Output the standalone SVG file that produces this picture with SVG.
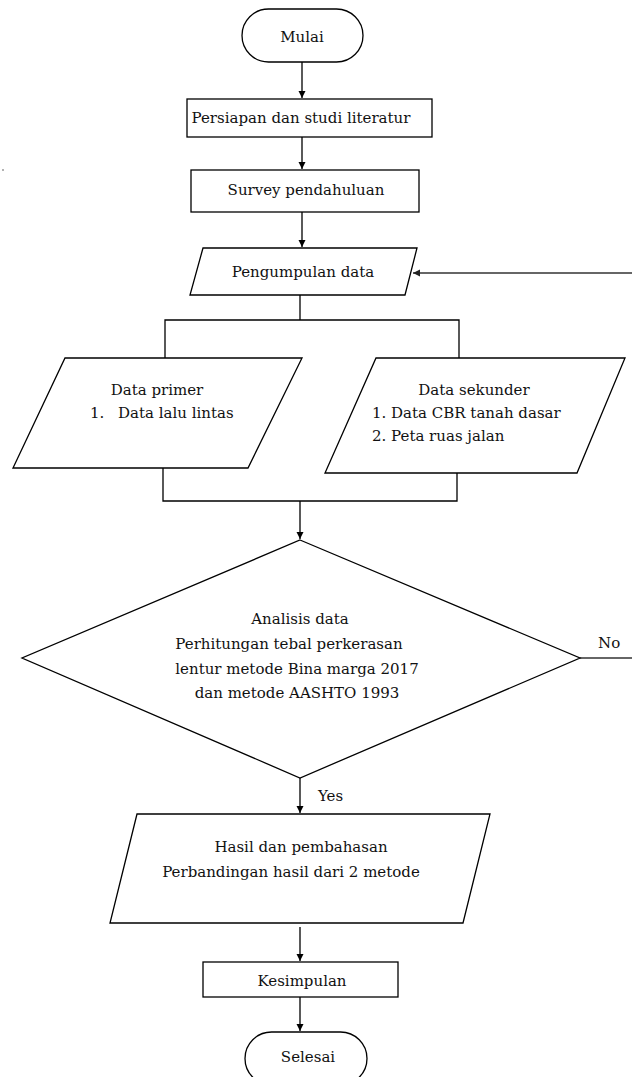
<svg xmlns="http://www.w3.org/2000/svg" width="632" height="1077" viewBox="0 0 632 1077">
<defs>
<marker id="ah" markerWidth="8" markerHeight="8" refX="7" refY="4" orient="auto" markerUnits="userSpaceOnUse">
<path d="M0,0.5 L7,4 L0,7.5 Z" fill="#000"/>
</marker>
<marker id="ahg" markerWidth="8" markerHeight="8" refX="7" refY="4" orient="auto" markerUnits="userSpaceOnUse">
<path d="M0,0.5 L7,4 L0,7.5 Z" fill="#222"/>
</marker>
<style>
.s{fill:#fff;stroke:#000;stroke-width:1.3}
.t{font-family:"DejaVu Serif","Liberation Serif",serif;font-size:15px;fill:#111}
.c{text-anchor:middle}
.l{fill:none;stroke:#000;stroke-width:1.3}
.g{fill:none;stroke:#666;stroke-width:1.8}
</style>
</defs>
<rect width="632" height="1077" fill="#fff"/>
<circle cx="3" cy="170" r="1" fill="#999"/>
<g id="connectors">
<line class="l" x1="302" y1="62" x2="302" y2="98" marker-end="url(#ah)"/>
<line class="l" x1="302" y1="137" x2="302" y2="169" marker-end="url(#ah)"/>
<line class="l" x1="302" y1="212" x2="302" y2="247" marker-end="url(#ah)"/>
<line class="g" x1="632" y1="273" x2="413" y2="273" marker-end="url(#ahg)"/>
<polyline class="l" points="300,295 300,320"/>
<polyline class="l" points="165,358 165,320 459,320 459,358"/>
<polyline class="l" points="163,468 163,501 457,501 457,473"/>
<line class="l" x1="300" y1="501" x2="300" y2="539" marker-end="url(#ah)"/>
<line class="g" x1="580" y1="658" x2="632" y2="658"/>
<text class="t" x="598" y="648">No</text>
<line class="l" x1="300" y1="778" x2="300" y2="813" marker-end="url(#ah)"/>
<text class="t" x="318" y="801">Yes</text>
<line class="l" x1="300" y1="927" x2="300" y2="961" marker-end="url(#ah)"/>
<line class="l" x1="300" y1="997" x2="300" y2="1031" marker-end="url(#ah)"/>
</g>
<g id="mulai">
<rect class="s" x="242" y="9" width="121" height="53" rx="26.5"/>
<text class="t c" x="302" y="42">Mulai</text>
</g>
<g id="persiapan">
<rect class="s" x="187" y="99" width="245" height="38"/>
<text class="t c" x="301" y="123">Persiapan dan studi literatur</text>
</g>
<g id="survey">
<rect class="s" x="191" y="170" width="228" height="42"/>
<text class="t c" x="306" y="195">Survey pendahuluan</text>
</g>
<g id="pengumpulan">
<polygon class="s" points="203,248 417,248 405,295 190,295"/>
<text class="t c" x="303" y="277">Pengumpulan data</text>
</g>
<g id="primer">
<polygon class="s" points="65,358 302,358 248,468 13,468"/>
<text class="t c" x="157" y="395">Data primer</text>
<text class="t" x="90" y="418">1.</text>
<text class="t" x="118" y="418">Data lalu lintas</text>
</g>
<g id="sekunder">
<polygon class="s" points="376,358 625,358 577,473 325,473"/>
<text class="t c" x="474" y="395">Data sekunder</text>
<text class="t" x="372" y="418">1. Data CBR tanah dasar</text>
<text class="t" x="372" y="441">2. Peta ruas jalan</text>
</g>
<g id="analisis">
<polygon class="s" points="300,540 580,658 300,778 22,658"/>
<text class="t c" x="300" y="624">Analisis data</text>
<text class="t c" x="289" y="649">Perhitungan tebal perkerasan</text>
<text class="t c" x="297" y="674">lentur metode Bina marga 2017</text>
<text class="t c" x="297" y="698">dan metode AASHTO 1993</text>
</g>
<g id="hasil">
<polygon class="s" points="137,814 490,814 463,923 110,923"/>
<text class="t c" x="301" y="852">Hasil dan pembahasan</text>
<text class="t c" x="291" y="877">Perbandingan hasil dari 2 metode</text>
</g>
<g id="kesimpulan">
<rect class="s" x="203" y="962" width="195" height="35"/>
<text class="t c" x="302" y="986">Kesimpulan</text>
</g>
<g id="selesai">
<rect class="s" x="245" y="1032" width="122" height="53" rx="26.5"/>
<text class="t c" x="308" y="1062">Selesai</text>
</g>
</svg>
